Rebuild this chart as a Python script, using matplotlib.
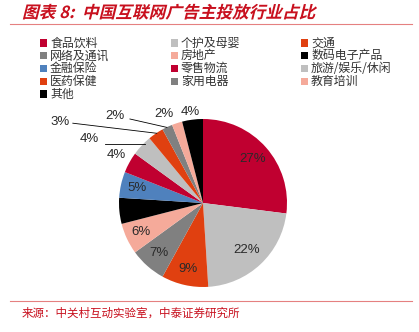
import matplotlib
matplotlib.use("Agg")
import matplotlib.pyplot as plt
from matplotlib.patches import Rectangle
from matplotlib.lines import Line2D
from matplotlib.patheffects import AbstractPathEffect
from matplotlib.transforms import Affine2D
import numpy as np

plt.rcParams['font.family'] = ['Noto Sans CJK SC', 'DejaVu Sans']

categories = ['食品饮料', '个护及母婴', '交通', '网络及通讯', '房地产', '数码电子产品',
              '金融保险', '零售物流', '旅游/娱乐/休闲', '医药保健', '家用电器', '教育培训', '其他']
values = [27, 22, 9, 7, 6, 5, 5, 4, 4, 3, 2, 2, 4]
colors = ['#C00030', '#BFBFBF', '#E04010', '#808080', '#F5AA9A', '#000000',
          '#4F81BD', '#C00030', '#BFBFBF', '#E04010', '#808080', '#F5AA9A', '#000000']
pct_labels = ['27%', '22%', '9%', '7%', '6%', '5%', '5%', '4%', '4%', '3%', '2%', '2%', '4%']

title = '图表 8:  中国互联网广告主投放行业占比'
source = '来源：中关村互动实验室，中泰证券研究所'


class Slant(AbstractPathEffect):
    def __init__(self, shear=14):
        super().__init__()
        self.shear = shear

    def draw_path(self, renderer, gc, tpath, affine, rgbFace=None):
        new_aff = Affine2D().skew_deg(self.shear, 0) + affine
        renderer.draw_path(gc, tpath, new_aff, rgbFace)


W, H = 419, 332
fig = plt.figure(figsize=(W / 100, H / 100), dpi=100)

# title and rules
fig.text(22 / W, 1 - 13 / H, title, color='#C8101E', fontsize=12, fontweight='bold',
         va='center', ha='left', path_effects=[Slant(14)])
fig.add_artist(Line2D([10 / W, 412 / W], [1 - 24 / H, 1 - 24 / H], color='#E58080', lw=0.8))
fig.add_artist(Line2D([10 / W, 412 / W], [1 - 301 / H, 1 - 301 / H], color='#E58080', lw=0.8))
fig.text(22 / W, 1 - 313 / H, source, color='#C8101E', fontsize=8.3, va='center', ha='left')

# legend (manual grid, row-major)
col_x = [40, 171, 301]
row_y0, row_dy = 43, 12.75
for i, (name, c) in enumerate(zip(categories, colors)):
    r, cc = divmod(i, 3)
    x = col_x[cc]
    y = row_y0 + r * row_dy
    fig.add_artist(Rectangle((x / W, 1 - (y + 3.5) / H), 7 / W, 7 / H, facecolor=c,
                             edgecolor='none', transform=fig.transFigure))
    fig.text((x + 10) / W, 1 - y / H, name, color='#333333', fontsize=8.6,
             va='center', ha='left')

# pie
cx, cy, R = 203, 203, 84
ax = fig.add_axes([(cx - R) / W, 1 - (cy + R) / H, 2 * R / W, 2 * R / H])
wedges, _ = ax.pie(values, colors=colors, startangle=90, counterclock=False,
                   radius=1.0, wedgeprops=dict(edgecolor='none', linewidth=0))
ax.set_xlim(-1, 1)
ax.set_ylim(-1, 1)
ax.set_aspect('equal')
ax.axis('off')

lab_font = dict(fontsize=9.5, family=['Liberation Sans', 'DejaVu Sans'])
inside_dist = [0.79, 0.76, 0.81, 0.80, 0.82, 0.80, 0.80]
for i, w in enumerate(wedges):
    ang = np.deg2rad((w.theta1 + w.theta2) / 2)
    if i < 7:
        d = inside_dist[i]
        tc = '#000000' if colors[i] == '#000000' else '#2a2a2a'
        ax.text(d * np.cos(ang), d * np.sin(ang), pct_labels[i], ha='center', va='center',
                color=tc, **lab_font)

out_c = '#2a2a2a'
# outside labels
ang7 = np.deg2rad((wedges[7].theta1 + wedges[7].theta2) / 2)
ax.text(1.18 * np.cos(ang7), 1.18 * np.sin(ang7), pct_labels[7], ha='center', va='center',
        color=out_c, **lab_font)

ax.text(-1.35, 0.76, pct_labels[8], ha='center', va='center', color=out_c, **lab_font)
ax.plot([-1.17, -0.69], [0.70, 0.70], color='black', lw=0.6, clip_on=False)

ax.text(-1.70, 0.97, pct_labels[9], ha='center', va='center', color=out_c, **lab_font)
ax.plot([-1.55, -0.55], [0.95, 0.83], color='black', lw=0.6, clip_on=False)

ax.text(-1.05, 1.03, pct_labels[10], ha='center', va='center', color=out_c, **lab_font)
ax.plot([-0.87, -0.43], [1.00, 0.90], color='black', lw=0.6, clip_on=False)

ax.text(-0.46, 1.06, pct_labels[11], ha='center', va='center', color=out_c, **lab_font)
ax.text(-0.15, 1.08, pct_labels[12], ha='center', va='center', color=out_c, **lab_font)

fig.savefig('out.png', dpi=100)
